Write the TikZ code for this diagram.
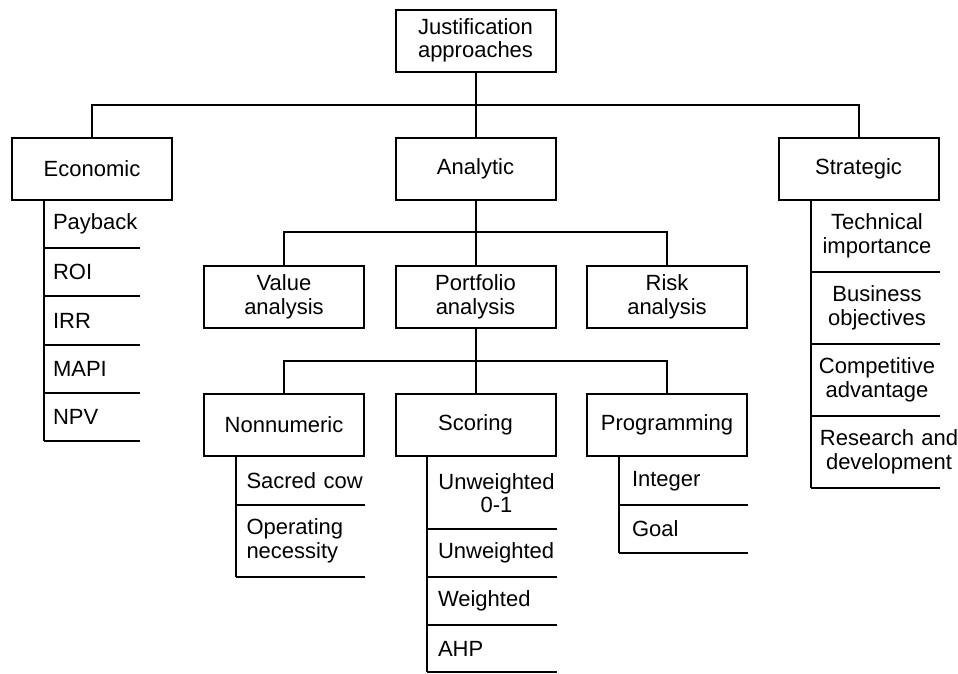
\documentclass[tikz,border=0pt]{standalone}
\usepackage{fontspec}
\setmainfont{Liberation Sans}
\begin{document}
\begin{tikzpicture}[x=1pt,y=-1pt,
  line width=2pt,
  every node/.style={font=\fontsize{22pt}{23.5pt}\selectfont},
  box/.style={draw, minimum width=160pt, minimum height=62pt, inner sep=0pt, align=center},
  cell/.style={anchor=north west, inner ysep=0pt, outer sep=0pt, align=left},
  ecell/.style={cell, text width=90pt, inner xsep=9pt, minimum height=48.2pt},
  ncell/.style={cell, text width=130pt, inner xsep=10.5pt},
  scell/.style={cell, text width=117pt, inner xsep=11pt},
  pcell/.style={cell, text width=110pt, inner xsep=13pt, minimum height=48pt},
  tcell/.style={cell, align=center, text width=120pt, inner xsep=6pt, minimum height=72pt}
]
\useasboundingbox (0,0) rectangle (958,673);

% top levels
\node[box] (root) at (475.5,40.5) {Justification\\approaches};
\node[box] (econ) at (92,168.5) {Economic};
\node[box] (anal) at (475.5,168.5) {Analytic};
\node[box] (strat) at (858.5,168.5) {Strategic};
\node[box] (value) at (284,297) {Value\\analysis};
\node[box] (port) at (475.5,297) {Portfolio\\analysis};
\node[box] (risk) at (667,297) {Risk\\analysis};
\node[box] (nonnum) at (284,425) {Nonnumeric};
\node[box] (scor) at (475.5,425) {Scoring};
\node[box] (prog) at (667,425) {Programming};

% tree connectors
\coordinate (bus1) at (475.5,105);
\coordinate (bus2) at (475.5,232);
\coordinate (bus3) at (475.5,361);
\draw (root.south) -- (bus1);
\draw (econ.north) |- (bus1) -| (strat.north);
\draw (bus1) -- (anal.north);
\draw (anal.south) -- (bus2);
\draw (value.north) |- (bus2) -| (risk.north);
\draw (bus2) -- (port.north);
\draw (port.south) -- (bus3);
\draw (nonnum.north) |- (bus3) -| (prog.north);
\draw (bus3) -- (scor.north);

% economic measures
\coordinate (eend) at (140,0);
\node[ecell] (e1) at (44,200) {Payback};
\node[ecell] (e2) at (e1.south west) {ROI};
\node[ecell] (e3) at (e2.south west) {IRR};
\node[ecell] (e4) at (e3.south west) {MAPI};
\node[ecell] (e5) at (e4.south west) {NPV};
\draw (econ.south -| e1.west) -- (e5.south west);
\foreach \c in {e1,e2,e3,e4,e5} \draw (\c.south west) -- (\c.south west -| eend);

% strategic criteria
\node[tcell] (t1) at (811,200) {Technical\\importance};
\node[tcell] (t2) at (t1.south west) {Business\\objectives};
\node[tcell] (t3) at (t2.south west) {Competitive\\advantage};
\node[tcell, text width=140pt, inner xsep=8pt] (t4) at (t3.south west) {Research and\\development};
\draw (strat.south -| t1.west) -- (t4.south west);
\foreach \c in {t1,t2,t3,t4} \draw (\c.south west) -- (\c.south west -| strat.east);

% nonnumeric methods
\node[ncell, minimum height=48pt] (n1) at (236,457) {Sacred cow};
\node[ncell, minimum height=72pt] (n2) at (n1.south west) {Operating\\necessity};
\draw (nonnum.south -| n1.west) -- (n2.south west);
\foreach \c in {n1,n2} \draw (\c.south west) -- (\c.south west -| nonnum.east);

% scoring methods
\node[scell, align=center, minimum height=72pt] (s1) at (427,457) {Unweighted\\0-1};
\node[scell, minimum height=48pt] (s2) at (s1.south west) {Unweighted};
\node[scell, minimum height=48pt] (s3) at (s2.south west) {Weighted};
\node[scell, minimum height=47pt] (s4) at (s3.south west) {AHP};
\draw (scor.south -| s1.west) -- (s4.south west);
\foreach \c in {s1,s2,s3,s4} \draw (\c.south west) -- (\c.south west -| scor.east);

% programming methods
\node[pcell] (p1) at (619,457) {Integer};
\node[pcell] (p2) at (p1.south west) {Goal};
\draw (prog.south -| p1.west) -- (p2.south west);
\foreach \c in {p1,p2} \draw (\c.south west) -- (\c.south west -| prog.east);
\end{tikzpicture}
\end{document}
